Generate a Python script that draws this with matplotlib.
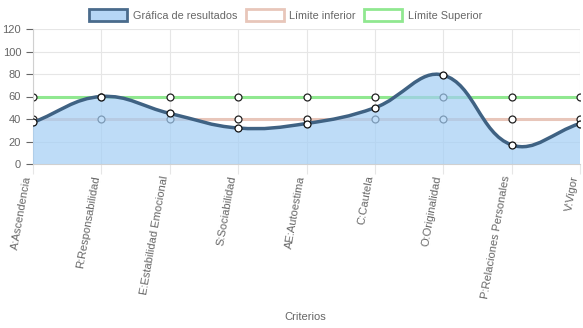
import numpy as np
import matplotlib.pyplot as plt
from matplotlib.path import Path
from matplotlib.patches import PathPatch, Patch

plt.rcParams['font.family'] = ['Liberation Sans', 'DejaVu Sans']

criterios = ['A:Ascendencia', 'R:Responsabilidad', 'E:Estabilidad Emocional',
             'S:Sociabilidad', 'AE:Autoestima', 'C:Cautela', 'O:Originalidad',
             'P:Relaciones Personales', 'V:Vigor']
resultados = [37, 60, 45, 32, 36, 50, 79, 17, 36]
limite_inferior = [40, 40, 40, 40, 40, 40, 40, 40, 40]
limite_superior = [60, 60, 60, 60, 60, 60, 60, 60, 60]

W, H = 583, 328
fig = plt.figure(figsize=(W / 100, H / 100), dpi=100)
ax = fig.add_axes([33 / W, 1 - 164 / H, (580 - 33) / W, (164 - 29) / H])
ax.set_xlim(0, len(criterios) - 1)
ax.set_ylim(0, 120)

# spline like chart.js (tension 0.4), control points computed in pixel space
def spline_path(xs, ys, tension=0.4):
    pts = ax.transData.transform(np.column_stack([xs, ys]))
    n = len(pts)
    cps = []
    for i in range(n):
        prev = pts[i - 1] if i > 0 else pts[i]
        cur = pts[i]
        nxt = pts[i + 1] if i < n - 1 else pts[i]
        d01 = np.hypot(*(cur - prev))
        d12 = np.hypot(*(nxt - cur))
        tot = d01 + d12
        s01 = d01 / tot if tot else 0
        s12 = d12 / tot if tot else 0
        cps.append((cur - tension * s01 * (nxt - prev), cur + tension * s12 * (nxt - prev)))
    verts = [pts[0]]
    codes = [Path.MOVETO]
    for i in range(n - 1):
        verts += [cps[i][1], cps[i + 1][0], pts[i + 1]]
        codes += [Path.CURVE4] * 3
    inv = ax.transData.inverted()
    return inv.transform(np.array(verts)), codes

x = np.arange(len(criterios))

ax.plot(x, limite_superior, color='#90e890', lw=2.2, zorder=2)
ax.plot(x, limite_superior, 'o', ms=5, mfc='white', mec='#222', mew=0.9, zorder=2.5)
ax.plot(x, limite_inferior, color='#e8c6ba', lw=2.2, zorder=2)
ax.plot(x, limite_inferior, 'o', ms=5, mfc='white', mec='#222', mew=0.9, zorder=2.5)

verts, codes = spline_path(x, resultados)
fill_verts = np.vstack([verts, [[x[-1], 0], [x[0], 0], verts[0]]])
fill_codes = codes + [Path.LINETO, Path.LINETO, Path.CLOSEPOLY]
ax.add_patch(PathPatch(Path(fill_verts, fill_codes), facecolor='#a3cef5', alpha=0.7,
                       edgecolor='none', zorder=3))
ax.add_patch(PathPatch(Path(verts, codes), facecolor='none', edgecolor='#3f6283',
                       lw=2.5, zorder=4, capstyle='round'))
ax.plot(x, resultados, 'o', ms=5, mfc='white', mec='#111', mew=0.9, zorder=5)

ax.set_yticks(range(0, 121, 20))
ax.set_xticks(x)
ax.set_xticklabels(criterios, rotation=80, ha='right', va='bottom', rotation_mode='anchor')
ax.grid(True, color='#e6e6e6', lw=0.8, zorder=0)
ax.tick_params(axis='y', colors='#666', labelsize=8, length=5, width=0.8, labelcolor='#666')
ax.tick_params(axis='x', colors='#e6e6e6', labelsize=8, length=7, width=0.8,
               labelcolor='#666', pad=2)
for s in ['top', 'right']:
    ax.spines[s].set_visible(False)
for s in ['left', 'bottom']:
    ax.spines[s].set_color('#d0d0d0')
ax.set_axisbelow(True)

fig.text(305 / W, 1 - 317 / H, 'Criterios', ha='center', va='center', fontsize=8, color='#666')

handles = [Patch(facecolor='#b6d6f5', edgecolor='#4a6b8c', lw=2),
           Patch(facecolor='white', edgecolor='#e8c6ba', lw=2),
           Patch(facecolor='white', edgecolor='#90e890', lw=2)]
fig.legend(handles, ['Gráfica de resultados', 'Límite inferior', 'Límite Superior'],
           loc='center', bbox_to_anchor=(0.49, 1 - 15 / H), ncol=3, frameon=False,
           fontsize=7.8, labelcolor='#666', handlelength=3.5, handleheight=1.2,
           columnspacing=0.8, handletextpad=0.5)

fig.savefig('out.png', dpi=100)
